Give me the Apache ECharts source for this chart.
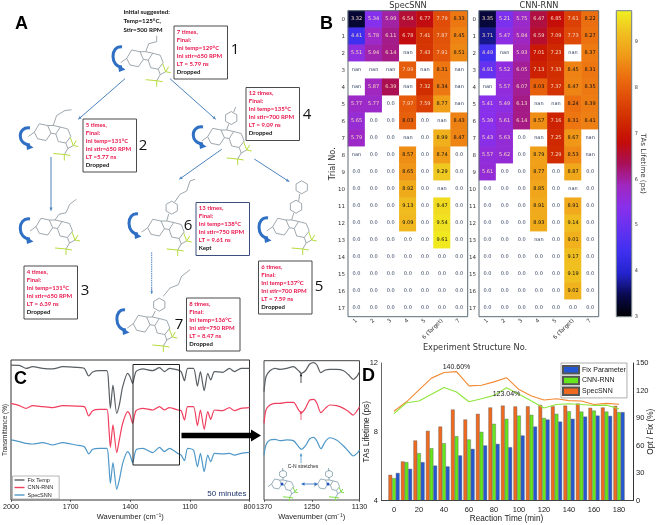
<!DOCTYPE html>
<html>
<head>
<meta charset="utf-8">
<style>html,body{margin:0;padding:0;background:#fff}#c{width:659px;height:525px}</style>
<script src="https://cdn.jsdelivr.net/npm/echarts@6/dist/echarts.min.js"></script>
</head>
<body>
<div id="c"></div>
<script>
// ---------- Panel B data ----------
const structures = ['1','2','3','4','5','6 (Target)','7'];
const trials = ['0','1','2','3','4','5','6','7','8','9','10','11','12','13','14','15','16','17'];
const N = 'nan';
const specSNN = [
 [3.32,5.34,5.99,6.54,6.77,7.79,8.33],
 [4.41,5.78,6.11,6.78,7.41,7.87,8.45],
 [5.51,5.94,6.14,N,7.43,7.91,8.51],
 [N,N,N,7.99,N,8.31,N],
 [N,5.87,6.39,N,7.32,8.34,N],
 [5.77,5.77,0,7.97,7.59,8.77,N],
 [5.65,0,0,8.03,0,N,8.43],
 [5.79,0,0,N,0,8.99,8.47],
 [N,0,0,8.57,0,8.74,0],
 [0,0,0,8.65,0,9.29,0],
 [0,0,0,8.92,0,N,0],
 [0,0,0,9.13,0,9.47,0],
 [0,0,0,9.09,0,9.54,0],
 [0,0,0,0,0,9.61,0],
 [0,0,0,0,0,0,0],
 [0,0,0,0,0,0,0],
 [0,0,0,0,0,0,0],
 [0,0,0,0,0,0,0]];
const cnnRNN = [
 [3.35,5.21,5.75,6.47,6.85,7.61,8.22],
 [3.71,5.47,5.84,6.59,7.09,7.73,8.27],
 [4.49,N,5.93,7.01,7.23,N,8.37],
 [4.91,5.52,6.05,7.13,7.33,8.45,8.31],
 [N,5.57,6.07,8.03,7.37,8.47,8.35],
 [5.41,5.49,6.13,N,N,8.24,8.39],
 [5.39,5.61,6.14,8.57,7.16,8.31,8.41],
 [5.43,5.63,0,N,7.25,8.67,N],
 [5.57,5.62,0,8.79,7.29,8.53,N],
 [5.61,0,0,8.77,0,8.87,0],
 [0,0,0,8.85,0,N,0],
 [0,0,0,8.91,0,8.91,0],
 [0,0,0,8.93,0,9.14,0],
 [0,0,0,N,0,9.01,0],
 [0,0,0,0,0,9.17,0],
 [0,0,0,0,0,9.19,0],
 [0,0,0,0,0,9.02,0],
 [0,0,0,0,0,0,0]];
const cmapColors = ['#000000','#0a0a50','#2424d0','#4030f0','#6432f0','#8830ec','#a028c0','#a81058','#c40c08','#d02c00','#e04c08','#ec7010','#f09c18','#f0c020','#f0f020'];

// ---------- Panel C data ----------
const wavenumbers = [2000,1958,1924,1891,1841,1790,1740,1673,1631,1609,1589,1555,1518,1508,1500,1487,1468,1455,1438,1413,1401,1388,1371,1337,1287,1253,1228,1203,1161,1144,1127,1111,1082,1062,1047,1028,1010,995,976,934,901,876,842,800];
const irFixTemp = [96.4,96.2,94,95.2,94,93.6,95.2,94.8,94,88.6,91.4,92.4,92.4,81,65.5,82.1,61.9,67.9,81,90.5,88.1,83.3,91.7,93.6,92.4,94.5,91.7,94,92.9,91.7,85.2,94,94,81.4,91.7,78.1,90.5,85.7,91.7,91.2,94,91.7,94,94];
const irCnnRnn = [69,67.4,65.5,67.4,66.7,66,67.4,67.1,66.7,60,63.8,64.8,64.8,52.4,37.6,53.6,33.8,42.9,54.8,63.1,60.7,54.8,63.8,65.5,64.3,66.7,64.3,66,64.3,63.8,57.1,66.7,66.7,53.1,64.3,50.5,63.1,57.6,64.3,63.8,66,63.8,65.5,66];
const irSpecSnn = [42.9,41.7,40.5,40,41,39.3,41,39.3,38.1,32.9,36.2,36.9,36.9,26.2,11.9,26.7,7.6,14.3,26.2,34.5,32.1,26.7,35.7,36.9,33.8,37.6,34.5,36.9,33.3,32.1,28.1,36.9,35.7,23.8,33.3,20.2,32.1,27.4,33.3,32.9,33.3,32.1,33.3,34];

// ---------- Inset data ----------
const insetWavenumbers = [1370,1365,1355,1342,1330,1313,1296,1283,1276,1266,1255,1245,1237,1227,1216,1205,1188,1170,1157,1146,1136,1130];
const insetFixTemp = [77.8,88.5,92.8,94.5,93.8,94.5,95.7,92.8,90.9,92.8,97.6,98.6,96.9,91.4,93.3,93.8,93.8,92.8,89.7,86.6,89,92.1];
const insetCnnRnn = [55,64.6,68.2,69.4,69.4,70.1,70.1,64.6,62.7,65.8,71.8,72.2,69.4,62.7,65.8,68.2,67.7,65.8,63.4,61,64.1,67];
const insetSpecSnn = [32.3,39.5,43.1,43.5,42.6,43.1,42.6,38.3,36.4,38.8,44,45,42.3,36.8,41.9,44.7,43.1,38.8,34.7,31.6,33.5,35.9];

// ---------- Panel D data ----------
const reactionTimes = ['0','10','20','30','40','50','60','70','80','90','100','110','120','130','140','150','160','170','180'];
const barSpecSnn = [5.49,6.27,7.49,8.05,8.3,9.29,8.71,9.04,9.41,9.52,9.47,9.48,9.56,9.48,9.52,9.64,9.39,9.41,9.5];
const barCnnRnn = [5.3,6.23,6.75,7.04,7.33,7.74,7.55,7.99,8.46,8.75,8.94,8.98,8.8,9.04,9.19,9.17,9.23,9.17,9.14];
const barFixParam = [5.6,5.84,6.23,6.03,5.98,6.62,7,7.2,7.29,7.1,7.78,8.3,8.71,8.59,8.75,8.88,8.94,8.92,9.14];
const ratioSpecSnn = [97.4,107.7,120.6,133.5,139.7,140.6,125,125.7,129.4,134,121,114,109.6,111,109,108.5,104.8,106,105];
const ratioCnnRnn = [94.8,106.6,108.5,115.8,123.2,118.4,107.7,111,114.7,123.04,115.8,108.5,101,104.8,105.5,104.8,103.7,104,100];

// ---------- Panel A content ----------
const boxes = [
 {n:'1',x:174,y:26,lines:['7 times,','Final:','Ini temp=129°C','Ini stir=650 RPM','LT = 5.79 ns','Dropped'],nx:235,ny:50},
 {n:'2',x:83,y:119,lines:['5 times,','Final:','Ini temp=131°C','Ini stir=650 RPM','LT =5.77 ns','Dropped'],nx:143,ny:146},
 {n:'4',x:246,y:87.5,lines:['12 times,','Final:','Ini temp=135°C','Ini stir=700 RPM','LT = 9.09 ns','Dropped'],nx:307,ny:115},
 {n:'3',x:24,y:266,lines:['4 times,','Final:','Ini temp=131°C','Ini stir=650 RPM','LT = 6.39 ns','Dropped'],nx:85,ny:291},
 {n:'6',x:196,y:202.5,lines:['13 times,','Final:','Ini temp=138°C','Ini stir=750 RPM','LT = 9.61 ns','Kept'],nx:188,ny:226},
 {n:'5',x:258.5,y:261,lines:['6 times,','Final:','Ini temp=137°C','Ini stir=700 RPM','LT = 7.59 ns','Dropped'],nx:319,ny:287},
 {n:'7',x:186.5,y:298,lines:['8 times,','Final:','Ini temp=136°C','Ini stir=750 RPM','LT = 8.47 ns','Dropped'],nx:179,ny:325}
];

const SANS = '"Liberation Sans",Arial,sans-serif';
const MPL = '"DejaVu Sans",sans-serif';
const LABELFONT = 'Lato,"Open Sans",sans-serif';
const g = [];
function txt(t,x,y,font,fill,align,base,rot,z){g.push({type:'text',z:z||60,x,y,rotation:rot||0,silent:true,style:{text:t,font,fill:fill||'#111',textAlign:align||'left',textVerticalAlign:base||'middle'}});}
function line(pts,stroke,w,dash,z){g.push({type:'polyline',z:z||40,silent:true,shape:{points:pts},style:{stroke,lineWidth:w,fill:null,lineDash:dash||null}});}
function poly(pts,fill,z){g.push({type:'polygon',z:z||41,silent:true,shape:{points:pts},style:{fill}});}
function arrow(x1,y1,x2,y2,color,w,h){
  line([[x1,y1],[x2,y2]],color,w);
  const a=Math.atan2(y2-y1,x2-x1),l=h||3.5;
  poly([[x2,y2],[x2-l*Math.cos(a-0.45),y2-l*Math.sin(a-0.45)],[x2-l*Math.cos(a+0.45),y2-l*Math.sin(a+0.45)]],color);
}
function curved(x1,y1,x2,y2,bx){
  g.push({type:'bezierCurve',z:40,silent:true,shape:{x1:x1,y1:y1,x2:x2,y2:y2-2,cpx1:bx,cpy1:y1-2,cpx2:bx,cpy2:y2-2},style:{stroke:'#2f6fc4',lineWidth:3,fill:null}});
  poly([[x2+3.5,y2+0.5],[x2-4,y2-4.5],[x2-3,y2+3]],'#2f6fc4');
}
function hex(cx,cy,r,off){const p=[];for(let i=0;i<6;i++){const a=(off||0)+i*Math.PI/3;p.push([cx+r*Math.cos(a),cy+r*Math.sin(a)]);}p.push(p[0]);return p;}
function mol(x,y,side,s,col,fcol){
  s=s||1;col=col||'#87929a';fcol=fcol||'#b6dc3c';
  const P=a=>a.map(q=>[x+q[0]*s,y+q[1]*s]);
  const L=(a,c,w)=>line(P(a),c||col,w||0.8);
  L([[-19,6.7],[-14,-1.7],[-5.7,0],[-2.3,7.7],[-7.3,15],[-15.7,13.3],[-19,6.7]]);
  L([[0,0],[-5.7,0]]);L([[-2.3,7.7],[2.5,8.5]]);
  L([[0,0],[7,1.5],[14.5,3.5],[17.5,11],[12.5,17.5],[5,16],[2.5,8.5],[7,1.5]]);
  L([[-19,6.7],[-25,11]]);
  L([[12.5,17.5],[14.5,23],[20,20]]);L([[14.5,23],[11,29]]);
  [[[20,20],[17,12]],[[20,20],[23,15]],[[20,20],[25,21]],[[11,29],[0,28]],[[11,29],[11,35]],[[11,29],[17,30]]].forEach(b=>L(b,fcol,1));
  (side||[]).forEach(sd=>{ if(sd.ring) line(hex(x+sd.ring[0]*s,y+sd.ring[1]*s,6.5*s,Math.PI/6),col,0.8); else L(sd); });
}
// panel letters
txt('A',15,24,'bold 18px '+SANS,'#000');
txt('B',320,24,'bold 18px '+SANS,'#000');
txt('C',14,379,'bold 18px '+SANS,'#000');
txt('D',362,376,'bold 18px '+SANS,'#000');
// initial text
['Initial suggested:','Temp=125°C,','Stir=500 RPM'].forEach((t,i)=>txt(t,123.5,12.5+i*9,'bold 6.2px '+LABELFONT,'#111'));
// boxes
boxes.forEach(b=>{
  g.push({type:'rect',z:30,silent:true,shape:{x:b.x,y:b.y,width:53.5,height:53},style:{fill:'#fff',stroke:b.n==='6'?'#3c4f7c':'#4a4a4a',lineWidth:1}});
  b.lines.forEach((t,i)=>{
    const last=i===5;
    txt(t,b.x+2.8,b.y+6+i*8,'bold 6px '+LABELFONT,last?'#111':'#e8164c');
  });
  txt(b.n,b.nx,b.ny,'15px "Open Sans",'+SANS,'#111','center');
});
// arrows
const AC='#4d84bd';
arrow(125,78.7,78.3,119.3,AC,1);
arrow(170,78.7,215.7,119.3,AC,1);
arrow(51,157,51,210.7,AC,1);
arrow(221.7,149.3,179.3,179.3,AC,1);
arrow(254.3,159,289.3,181.7,AC,1);
line([[151.7,252.3],[151.7,292]],AC,1,[1.5,0.8]);
arrow(151.7,288,151.7,294,AC,0.6,3);
// curved arrows
curved(122,47,122,69,110);curved(30,128,30,147,17);curved(203,127,203,146,190);
curved(30,219,30,241,17);curved(138,214,138,236,126);curved(268,218,268,240,256);curved(125,310,126,332,114);
// molecules
mol(145.7,51.7,[[[0,0],[3,-8],[11,-10],[11,-16]]]);
mol(53.3,125.5,[[[0,0],[3.3,-10],[11.7,-15],[18.3,-15.7]]]);
mol(226.7,130,[[[0,0],[2,-6]],{ring:[4.5,-12]},[[7,-18],[9,-23]]]);
mol(55,220,[[[0,0],[4,-5.7],[11,-7.3],[14.7,-15.7],[21.3,-20.7]]]);
mol(166.7,221,[[[0,0],[2,-7]],{ring:[5,-13.3]},[[8,-19],[13.3,-26.7],[20,-30],[23.3,-40],[28.3,-41.7]]]);
mol(291.7,220,[[[0,0],[2,-7]],{ring:[4.3,-13.3]},[[7,-19],[8,-26]],{ring:[10,-32.7]}]);
mol(152.3,317,[[[0,0],[3,-6]],{ring:[7,-12.3]},[[11,-20.7],[17.7,-29],[26,-32.3],[29.3,-40.7],[37.7,-47.3]]]);
// heatmap frames
[[348,10.7,119.7,306],[479,10.7,119.7,306]].forEach(r=>g.push({type:'rect',z:50,silent:true,shape:{x:r[0],y:r[1],width:r[2],height:r[3]},style:{fill:null,stroke:'#5c6c76',lineWidth:1}}));
g.push({type:'rect',z:50,silent:true,shape:{x:616.3,y:10.7,width:15.4,height:306},style:{fill:null,stroke:'#6c7a82',lineWidth:1}});
txt('Experiment Structure No.',475,348,'8.2px '+MPL,'#333','center');
// panel C overlays
g.push({type:'rect',z:50,silent:true,shape:{x:133,y:364.5,width:46.5,height:100.5},style:{fill:null,stroke:'#222',lineWidth:1}});
poly([[181.5,432.7],[251,432.7],[251,429.5],[261,435.5],[251,441.5],[251,438.3],[181.5,438.3]],'#000',50);
txt('50 minutes',246.5,494,'8px '+SANS,'#1d3268','right');
// inset overlays
arrow(301,383,301,373.5,'#222',0.8,3);
arrow(301,420,301,411,'#e8405f',0.8,3);
arrow(301,463,301,453.5,'#4f98c8',0.8,3);
txt('C-N stretches',303,467,'5px '+SANS,'#222','center');
line([[303,484],[316,484]],'#2f6fc4',0.8);
poly([[301,484],[304.5,482.3],[304.5,485.7]],'#2f6fc4',50);
poly([[318,484],[314.5,482.3],[314.5,485.7]],'#2f6fc4',50);
mol(283,480,[[[0,0],[0,-5]],{ring:[0,-10]},[[0,-14],[-1,-20]]],0.6,'#7f9aa8','#7ee04a');
mol(329,480,[[[0,0],[0,-5]],{ring:[0,-10]},[[0,-14],[-1,-20]]],0.6,'#7f9aa8','#7ee04a');
[[282,484],[328,484]].forEach(c=>g.push({type:'circle',z:41,silent:true,shape:{cx:c[0],cy:c[1],r:1.5},style:{fill:'#2451c0'}}));
// panel D axis baseline extension
line([[381,500.5],[633,500.5]],'#444',1,null,45);

function heatData(rows){
  const out=[];
  rows.forEach((r,ri)=>r.forEach((v,ci)=>{
    const isNan=v==='nan';
    const val=isNan?-1:v;
    const color=(isNan||v===0)?'#2f3d5e':(v>=8?'#111':'#f3d6c2');
    out.push({value:[ci,ri,val],label:{color}});
  }));
  return out;
}
function heatSeries(rows,i){
  return {type:'heatmap',name:i?'CNN-RNN map':'SpecSNN map',xAxisIndex:i,yAxisIndex:i,data:heatData(rows),
    label:{show:true,fontSize:5,fontFamily:MPL,formatter:p=>{const v=p.value[2];return v===-1?'nan':(v===0?'0.0':v.toFixed(2));}},
    itemStyle:{borderWidth:0},emphasis:{disabled:true}};
}
function heatAxes(i,left){
  return {
    x:{type:'category',gridIndex:i,data:structures,
      axisLine:{show:false},axisTick:{length:2,alignWithLabel:true,lineStyle:{color:'#444',width:.6}},splitArea:{show:false},
      axisLabel:{interval:0,rotate:45,fontSize:5.5,fontFamily:MPL,color:'#333',margin:3}},
    y:{type:'category',gridIndex:i,data:trials,inverse:true,
      axisLine:{show:false},axisTick:{length:2,alignWithLabel:true,lineStyle:{color:'#444',width:.6}},splitArea:{show:false},
      axisLabel:{interval:0,fontSize:5.5,fontFamily:MPL,color:'#333',margin:3},
      name:left?'Trial No.':'',nameLocation:'middle',nameGap:11,nameMoveOverlap:false,nameTextStyle:{fontSize:8.2,fontFamily:MPL,color:'#333'}}
  };
}
function irLine(name,xs,ys,color,xi,yi,w){
  return {type:'line',name,xAxisIndex:xi,yAxisIndex:yi,data:xs.map((x,i)=>[x,ys[i]]),showSymbol:false,symbol:'none',smooth:0.25,
    lineStyle:{color,width:w||1.2},itemStyle:{color},emphasis:{disabled:true}};
}
const h0=heatAxes(0,true),h1=heatAxes(1,false);
const irAxisLabel={fontSize:7.2,fontFamily:SANS,color:'#222',margin:4,formatter:v=>String(v)};
const irXName={nameLocation:'middle',nameGap:13,nameMoveOverlap:false,nameTextStyle:{fontSize:7.5,fontFamily:SANS,color:'#222'}};
const irX=(gi,min,max,vals)=>Object.assign({type:'value',gridIndex:gi,inverse:true,min,max,splitLine:{show:false},
   axisLine:{show:false},axisTick:{inside:false,length:2,customValues:vals,lineStyle:{color:'#333',width:.7}},
   axisLabel:Object.assign({customValues:vals},irAxisLabel),name:'Wavenumber (cm⁻¹)'},irXName);
const irY=(gi,name)=>({type:'value',gridIndex:gi,min:0,max:100,interval:100,splitLine:{show:false},axisLine:{show:false},axisTick:{show:false},axisLabel:{show:false},
   name,nameLocation:'middle',nameGap:2.5,nameMoveOverlap:false,nameTextStyle:{fontSize:6.4,fontFamily:SANS,color:'#222'}});
const dBorder={color:'#555',width:0.4};
const option={
  animation:false,
  backgroundColor:'#fff',
  textStyle:{fontFamily:SANS},
  title:[
    {text:'SpecSNN',left:408,top:1,padding:0,textAlign:'center',z:70,textStyle:{fontSize:8.2,lineHeight:9,fontWeight:'normal',fontFamily:MPL,color:'#333'}},
    {text:'CNN-RNN',left:539,top:1,padding:0,textAlign:'center',z:70,textStyle:{fontSize:8.2,lineHeight:9,fontWeight:'normal',fontFamily:MPL,color:'#333'}}
  ],
  grid:[
    {left:348,top:10.7,width:119.7,height:306},
    {left:479,top:10.7,width:119.7,height:306},
    {left:616.3,top:10.7,width:15.4,height:306},
    {left:11,top:360,width:238.5,height:140,show:true,borderColor:'#333',borderWidth:1,backgroundColor:'transparent'},
    {left:264,top:360.7,width:95.5,height:139.3,show:true,borderColor:'#444',borderWidth:1,backgroundColor:'transparent'},
    {left:387.75,top:363,width:237.5,height:137.5}
  ],
  xAxis:[
    h0.x,h1.x,
    {type:'value',gridIndex:2,show:false,min:0,max:1},
    irX(3,800,2000,[800,1100,1400,1700,2000]),
    irX(4,1130,1370,[1130,1250,1370]),
    {type:'category',gridIndex:5,data:reactionTimes,
      axisLine:{show:false},axisTick:{alignWithLabel:true,interval:1,length:3,lineStyle:{color:'#444',width:.8}},
      axisLabel:{interval:1,fontSize:7.5,fontFamily:SANS,color:'#222',margin:5},
      name:'Reaction Time (min)',nameLocation:'middle',nameGap:14,nameMoveOverlap:false,nameTextStyle:{fontSize:8.2,fontFamily:SANS,color:'#222'}}
  ],
  yAxis:[
    h0.y,h1.y,
    {type:'value',gridIndex:2,position:'right',min:3,max:9.68,interval:1,
      splitLine:{show:false},axisLine:{show:false},axisTick:{length:2,lineStyle:{color:'#444',width:.6}},
      axisLabel:{fontSize:5,fontFamily:MPL,color:'#333',margin:3,showMaxLabel:false,formatter:v=>Number.isInteger(v)?String(v):''},
      name:'TAs Lifetime (ps)',nameLocation:'middle',nameRotate:-90,nameGap:8,nameMoveOverlap:false,nameTextStyle:{fontSize:7.2,fontFamily:MPL,color:'#333'}},
    irY(3,'Transmittance (%)'),
    {type:'value',gridIndex:4,min:0,max:100,show:false},
    {type:'value',gridIndex:5,min:4,max:12,interval:4,offset:6.75,splitLine:{show:false},
      axisLine:{show:true,lineStyle:{color:'#666',width:1}},axisTick:{length:3,lineStyle:{color:'#555'}},
      axisLabel:{fontSize:7.5,fontFamily:SANS,color:'#222',margin:3},
      name:'TAs Lifetime (ps)',nameLocation:'middle',nameGap:10,nameMoveOverlap:false,nameTextStyle:{fontSize:8.2,fontFamily:SANS,color:'#222'}},
    {type:'value',gridIndex:5,position:'right',min:0,max:150,interval:30,offset:7.75,splitLine:{show:false},
      axisLine:{show:true,lineStyle:{color:'#333',width:1}},axisTick:{length:3,lineStyle:{color:'#333'}},
      axisLabel:{fontSize:7.5,fontFamily:SANS,color:'#222',margin:3},
      name:'Opt / Fix (%)',nameLocation:'middle',nameGap:14,nameMoveOverlap:false,nameTextStyle:{fontSize:8.2,fontFamily:SANS,color:'#222'}}
  ],
  visualMap:[{type:'continuous',min:3,max:9.68,range:[3.005,9.68],seriesIndex:[0,1],left:616.3,top:10.7,itemWidth:15.4,itemHeight:306,padding:0,
    calculable:false,hoverLink:false,showLabel:false,inRange:{color:cmapColors},outOfRange:{color:['#ffffff','#ffffff']},text:null}],
  legend:[
    {data:['Fix Temp IR','CNN-RNN IR','SpecSNN IR'],left:12.5,top:476,orient:'vertical',icon:'rect',itemWidth:10,itemHeight:1.4,itemGap:1.5,padding:[1,6,1,2],
      selectedMode:false,borderColor:'#888',borderWidth:.6,backgroundColor:'#fff',
      formatter:n=>n.replace(' IR',''),textStyle:{fontSize:5.5,fontFamily:SANS,color:'#222',padding:[0,0,0,-2]}},
    {data:['Fix Parameter','CNN-RNN','SpecSNN'],left:561,top:363,orient:'vertical',icon:'rect',itemWidth:16,itemHeight:7.5,itemGap:1.2,padding:[2,1,2,1],
      selectedMode:false,borderColor:'#999',borderWidth:.8,backgroundColor:'#fff',
      textStyle:{fontSize:7,fontFamily:SANS,color:'#222',padding:[0,0,0,-2]}}
  ],
  graphic:{elements:g},
  series:[
    heatSeries(specSNN,0),
    heatSeries(cnnRNN,1),
    irLine('Fix Temp IR',wavenumbers,irFixTemp,'#5a5f63',3,3),
    irLine('CNN-RNN IR',wavenumbers,irCnnRnn,'#f0405f',3,3),
    irLine('SpecSNN IR',wavenumbers,irSpecSnn,'#4f98c8',3,3),
    irLine('Fix Temp inset',insetWavenumbers,insetFixTemp,'#5a5f63',4,4),
    irLine('CNN-RNN inset',insetWavenumbers,insetCnnRnn,'#f0405f',4,4),
    irLine('SpecSNN inset',insetWavenumbers,insetSpecSnn,'#4f98c8',4,4),
    {type:'bar',name:'SpecSNN',xAxisIndex:5,yAxisIndex:5,data:barSpecSnn,barWidth:3.7,barGap:'0%',itemStyle:{color:'#f0691e',borderColor:dBorder.color,borderWidth:dBorder.width},emphasis:{disabled:true}},
    {type:'bar',name:'CNN-RNN',xAxisIndex:5,yAxisIndex:5,data:barCnnRnn,barWidth:3.7,barGap:'0%',itemStyle:{color:'#66e61c',borderColor:dBorder.color,borderWidth:dBorder.width},emphasis:{disabled:true}},
    {type:'bar',name:'Fix Parameter',xAxisIndex:5,yAxisIndex:5,data:barFixParam,barWidth:3.7,barGap:'0%',itemStyle:{color:'#2457d2',borderColor:dBorder.color,borderWidth:dBorder.width},emphasis:{disabled:true}},
    {type:'line',name:'SpecSNN ratio',xAxisIndex:5,yAxisIndex:6,showSymbol:true,showAllSymbol:true,symbol:'circle',symbolSize:0.01,z:5,
      data:ratioSpecSnn.map(v=>v===140.6?{value:v,label:{show:true,position:'top',distance:1,formatter:'140.60%',fontSize:7,color:'#222',fontFamily:SANS}}:v),
      lineStyle:{color:'#f28a34',width:1.1},itemStyle:{color:'#f28a34'},emphasis:{disabled:true}},
    {type:'line',name:'CNN-RNN ratio',xAxisIndex:5,yAxisIndex:6,showSymbol:true,showAllSymbol:true,symbol:'circle',symbolSize:0.01,z:5,
      data:ratioCnnRnn.map(v=>v===123.04?{value:v,label:{show:true,position:'bottom',distance:3,formatter:'123.04%',fontSize:7,color:'#222',fontFamily:SANS}}:v),
      lineStyle:{color:'#8fe63e',width:1.1},itemStyle:{color:'#8fe63e'},emphasis:{disabled:true}}
  ]
};
const chart=echarts.init(document.getElementById('c'),null,{renderer:'canvas'});
chart.setOption(option);
</script>
</body>
</html>
